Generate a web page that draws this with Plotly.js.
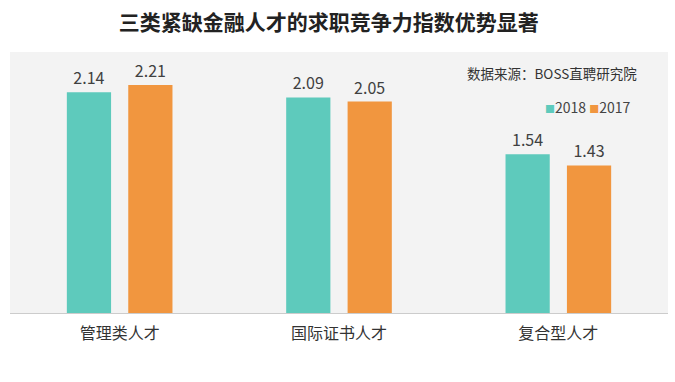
<!DOCTYPE html>
<html><head><meta charset="utf-8">
<script src="https://cdn.plot.ly/plotly-3.0.1.min.js"></script>
<style>html,body{margin:0;padding:0;background:#fff;}#c{width:675px;height:382px;}</style>
</head><body><div id="c"></div>
<script>
const categories = ["管理类人才", "国际证书人才", "复合型人才"];
const values2018 = [2.14, 2.09, 1.54];
const values2017 = [2.21, 2.05, 1.43];
const seriesNames = ["2018", "2017"];
const colors = ['#5ecabc', '#f1963f'];
const FONT = '"Noto Sans CJK SC", "Noto Sans", sans-serif';

const traces = [
  {type:'bar', name:seriesNames[0], x:categories, y:values2018, marker:{color:colors[0]},
   text:values2018.map(v=>v.toFixed(2)), textposition:'outside', cliponaxis:false,
   textfont:{size:16, color:'#404040', family:FONT}},
  {type:'bar', name:seriesNames[1], x:categories, y:values2017, marker:{color:colors[1]},
   text:values2017.map(v=>v.toFixed(2)), textposition:'outside', cliponaxis:false,
   textfont:{size:16, color:'#404040', family:FONT}}
];

const legendText = seriesNames.map((n,i)=>'<span style="color:'+colors[i]+';font-size:10px">■</span>'+n).join(' ');

const layout = {
  width:675, height:382,
  margin:{l:10, r:7, t:52, b:69, autoexpand:false},
  paper_bgcolor:'#ffffff', plot_bgcolor:'#f3f3f3',
  font:{family:FONT, color:'#333'},
  title:{text:'<b>三类紧缺金融人才的求职竞争力指数优势显著</b>', x:0.487, xanchor:'center', y:0.94, yanchor:'middle',
         font:{size:21, color:'#222', family:FONT}},
  barmode:'group', bargap:0.44, bargroupgap:0.28,
  xaxis:{showgrid:false, zeroline:false, showline:true, linecolor:'#cccccc', linewidth:1, automargin:false,
         ticks:'', tickfont:{size:16, color:'#333', family:FONT}, ticklabelstandoff:6},
  yaxis:{range:[0,2.53], visible:false, showgrid:false, zeroline:false, automargin:false},
  showlegend:false,
  annotations:[
    {text:'数据来源：BOSS直聘研究院', xref:'paper', yref:'paper', x:0.824, y:0.92,
     xanchor:'center', yanchor:'middle', showarrow:false,
     font:{size:13.5, color:'#333', family:FONT}},
    {text:legendText, xref:'paper', yref:'paper', x:0.879, y:0.79,
     xanchor:'center', yanchor:'middle', showarrow:false,
     font:{size:14, color:'#444', family:FONT}}
  ]
};
Plotly.newPlot('c', traces, layout, {displayModeBar:false, staticPlot:true});
</script>
</body></html>
